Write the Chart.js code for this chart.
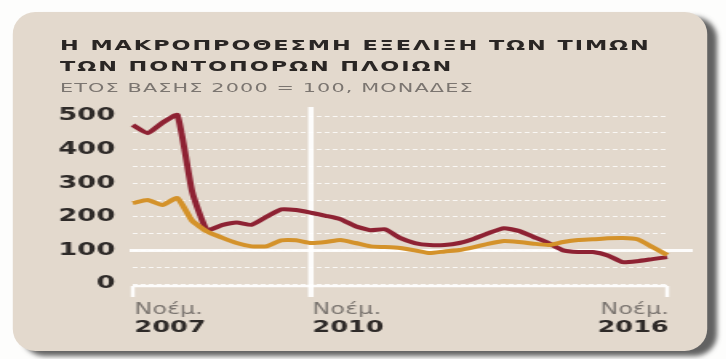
<!DOCTYPE html>
<html>
<head>
<meta charset="utf-8">
<script src="https://cdn.jsdelivr.net/npm/chart.js@4/dist/chart.umd.min.js"></script>
<style>
  html, body { margin: 0; padding: 0; background: #fdfdfc; overflow: hidden; }
  /* the whole graphic is stretched sideways, like the printed original */
  #stage { position: absolute; left: 0; top: 0; width: 454px; height: 359px; transform: scaleX(1.6); transform-origin: 0 0; }
  #card { position: absolute; left: 8px; top: 12px; width: 434px; height: 339px; background: #e3d9cd;
          border-radius: 14px / 22px; box-shadow: 6px 5px 4px rgba(70, 70, 70, 0.85); }
  .t { position: absolute; left: 37.5px; font-family: "DejaVu Sans", sans-serif; white-space: nowrap; line-height: 20px; }
  #t1, #t2 { font-size: 14px; font-weight: bold; color: #2a2624; letter-spacing: 1.2px; }
  #t1 { top: 35px; }
  #t2 { top: 56px; }
  #t3 { top: 78px; font-size: 13px; color: #7b7570; letter-spacing: 0.7px; }
  canvas { position: absolute; left: 0; top: 0; }
</style>
</head>
<body>
<div id="stage">
  <div id="card"></div>
  <div class="t" id="t1">Η ΜΑΚΡΟΠΡΟΘΕΣΜΗ ΕΞΕΛΙΞΗ ΤΩΝ ΤΙΜΩΝ</div>
  <div class="t" id="t2">ΤΩΝ ΠΟΝΤΟΠΟΡΩΝ ΠΛΟΙΩΝ</div>
  <div class="t" id="t3">ΕΤΟΣ ΒΑΣΗΣ 2000 = 100, ΜΟΝΑΔΕΣ</div>
  <canvas id="chart" width="454" height="359"></canvas>
</div>
<script>
// quarterly points, Nov 2007 - Nov 2016
const categories = [
    'Νοέμ. 2007', 'Φεβρ. 2008', 'Μάιος 2008', 'Αύγ. 2008',
    'Νοέμ. 2008', 'Φεβρ. 2009', 'Μάιος 2009', 'Αύγ. 2009',
    'Νοέμ. 2009', 'Φεβρ. 2010', 'Μάιος 2010', 'Αύγ. 2010',
    'Νοέμ. 2010', 'Φεβρ. 2011', 'Μάιος 2011', 'Αύγ. 2011',
    'Νοέμ. 2011', 'Φεβρ. 2012', 'Μάιος 2012', 'Αύγ. 2012',
    'Νοέμ. 2012', 'Φεβρ. 2013', 'Μάιος 2013', 'Αύγ. 2013',
    'Νοέμ. 2013', 'Φεβρ. 2014', 'Μάιος 2014', 'Αύγ. 2014',
    'Νοέμ. 2014', 'Φεβρ. 2015', 'Μάιος 2015', 'Αύγ. 2015',
    'Νοέμ. 2015', 'Φεβρ. 2016', 'Μάιος 2016', 'Αύγ. 2016',
    'Νοέμ. 2016'
];

const redSeries = [473, 449, 480, 503, 275, 160, 175, 183, 176, 200, 222, 220, 212, 203, 193, 172, 160, 163,
    137, 122, 116, 116, 122, 135, 152, 166, 158, 140, 122, 100, 95, 95, 85, 65, 68, 74, 80];

const orangeSeries = [241, 250, 235, 256, 188, 156, 138, 122, 112, 112, 130, 130, 122, 125, 131, 122, 112, 110,
    107, 100, 92, 97, 101, 110, 120, 128, 125, 120, 116, 125, 131, 133, 136, 137, 133, 110, 86];

const yTickLabels = [0, 100, 200, 300, 400, 500];
const xTickLabels = ['Νοέμ. 2007', 'Νοέμ. 2010', 'Νοέμ. 2016'];
const markedDate = 'Νοέμ. 2010';

// white base line, 100 line, Nov 2010 marker and the date labels
const decor = {
    id: 'decor',
    beforeDatasetsDraw(chart) {
        const { ctx, chartArea: a, scales: { x, y } } = chart;
        const y0 = y.getPixelForValue(0) + 2;
        const y100 = y.getPixelForValue(100);
        const xm = x.getPixelForValue(categories.indexOf(markedDate));
        ctx.save();
        ctx.strokeStyle = 'rgba(255,255,255,0.92)';
        ctx.lineWidth = 3;
        ctx.beginPath();
        ctx.moveTo(a.left - 2, y100);
        ctx.lineTo(a.right + 16, y100);
        ctx.stroke();

        ctx.lineWidth = 2.5;
        ctx.beginPath();
        ctx.moveTo(a.left, y0);
        ctx.lineTo(a.right, y0);
        ctx.moveTo(a.left, y0);
        ctx.lineTo(a.left, y0 + 11);
        ctx.moveTo(a.right, y0);
        ctx.lineTo(a.right, y0 + 11);
        ctx.stroke();

        ctx.lineWidth = 3.5;
        ctx.beginPath();
        ctx.moveTo(xm, a.top - 9);
        ctx.lineTo(xm, y0 + 11);
        ctx.stroke();
        ctx.restore();
    },
    afterDraw(chart) {
        const { ctx, scales: { x, y } } = chart;
        const base = y.getPixelForValue(0);
        ctx.save();
        ctx.textBaseline = 'middle';
        xTickLabels.forEach((lbl, n) => {
            const px = x.getPixelForValue(categories.indexOf(lbl));
            const parts = lbl.split(' ');
            ctx.textAlign = n === xTickLabels.length - 1 ? 'right' : 'left';
            ctx.font = '15px "DejaVu Sans"';
            ctx.fillStyle = '#7b7570';
            ctx.fillText(parts[0], px + 1, base + 26);
            ctx.font = 'bold 16px "DejaVu Sans"';
            ctx.fillStyle = '#2e2a28';
            ctx.fillText(parts[1], px + 1, base + 44);
        });
        ctx.restore();
    }
};

new Chart(document.getElementById('chart'), {
    type: 'line',
    data: {
        labels: categories,
        datasets: [
            {
                data: orangeSeries,
                borderColor: '#d4922a',
                borderWidth: 4,
                pointRadius: 0,
                tension: 0.15,
                clip: false
            },
            {
                data: redSeries,
                borderColor: '#8e2233',
                borderWidth: 4,
                pointRadius: 0,
                tension: 0.15,
                clip: false
            }
        ]
    },
    options: {
        responsive: false,
        animation: false,
        devicePixelRatio: 1,
        layout: { padding: { left: 0, top: 116, right: 37, bottom: 75 } },
        plugins: { legend: { display: false }, tooltip: { enabled: false } },
        scales: {
            x: { display: false },
            y: {
                min: 0,
                max: 500,
                afterFit: s => { s.width = 83; },
                border: { display: false, dash: [3, 2] },
                grid: { color: 'rgba(255,255,255,0.8)', lineWidth: 1, drawTicks: false },
                ticks: {
                    stepSize: 50,
                    autoSkip: false,
                    padding: 11,
                    color: '#2e2a28',
                    font: { family: 'DejaVu Sans', size: 17, weight: 'bold' },
                    callback: v => yTickLabels.includes(v) ? String(v) : ''
                }
            }
        }
    },
    plugins: [decor]
});
</script>
</body>
</html>
